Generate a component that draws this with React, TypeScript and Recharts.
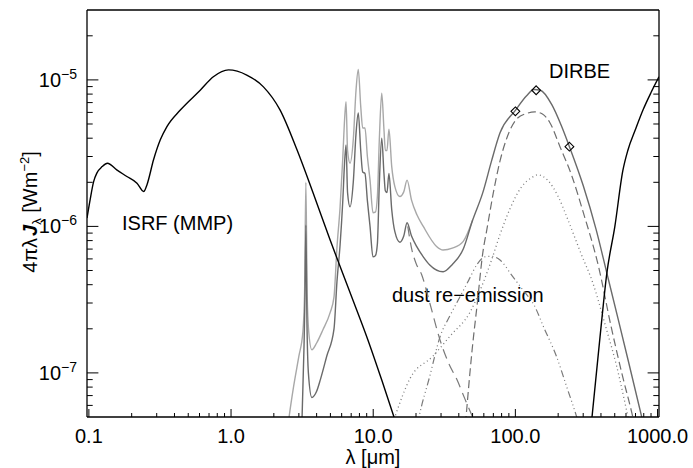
import React from "react";
import { ComposedChart, Line, Scatter, XAxis, YAxis } from "recharts";

const XMIN = 0.097;
const XMAX = 1024;
const YMIN = 5e-8;
const YMAX = 3e-5;

const FONT = "'Liberation Sans', Arial, Helvetica, sans-serif";

// ticks
const xMajorTicks = [0.1, 1, 10, 100, 1000];
const xTickLabels = ["0.1", "1.0", "10.0", "100.0", "1000.0"];
const xMinorTicks = [
  0.2, 0.3, 0.4, 0.5, 0.6, 0.7, 0.8, 0.9, 2, 3, 4, 5, 6, 7, 8, 9, 20, 30, 40, 50, 60, 70, 80, 90, 200, 300, 400,
  500, 600, 700, 800, 900,
];
const yMajorTicks = [1e-7, 1e-6, 1e-5];
const yTickExponents = ["−7", "−6", "−5"];
const yMinorTicks = [
  6e-8, 7e-8, 8e-8, 9e-8, 2e-7, 3e-7, 4e-7, 5e-7, 6e-7, 7e-7, 8e-7, 9e-7, 2e-6, 3e-6, 4e-6, 5e-6, 6e-6, 7e-6, 8e-6,
  9e-6, 2e-5,
];

// ISRF (MMP) + CMB, black
const isrfLambda = [
  0.097, 0.102, 0.108, 0.114, 0.124, 0.135, 0.157, 0.185, 0.218, 0.243, 0.256, 0.285, 0.318, 0.354, 0.438, 0.607,
  0.751, 0.96, 1.29, 1.69, 2.21, 2.91, 3.78, 4.97, 5.86, 7.24, 9.06, 11.5, 14, 17, 25, 60, 200, 300, 330, 346, 394,
  440, 501, 570, 618, 700, 794, 900, 1024,
];
const isrfValue = [
  1.14e-6, 1.52e-6, 2.02e-6, 2.32e-6, 2.56e-6, 2.7e-6, 2.43e-6, 2.19e-6, 1.97e-6, 1.73e-6, 1.92e-6, 2.85e-6, 3.9e-6,
  4.8e-6, 6.2e-6, 8.5e-6, 1.05e-5, 1.17e-5, 1.08e-5, 8.96e-6, 6.24e-6, 3.33e-6, 1.69e-6, 8.1e-7, 5.3e-7, 3.1e-7,
  1.74e-7, 8.9e-8, 5e-8, 2.8e-8, 5e-9, 1e-11, 1e-10, 1.3e-8, 3.2e-8, 5e-8, 1.76e-7, 4.8e-7, 1.0e-6, 2.4e-6, 3.3e-6,
  4.6e-6, 6.3e-6, 8.2e-6, 1.05e-5,
];

// total emission, high PAH case (light gray)
const highLambda = [
  2.4, 2.56, 2.75, 3.0, 3.2, 3.29, 3.36, 3.43, 3.52, 3.7, 4.0, 4.43, 4.97, 5.3, 5.56, 5.85, 6.1, 6.3, 6.44, 6.6, 6.87,
  7.24, 7.57, 7.85, 8.17, 8.43, 8.75, 9.1, 9.5, 9.96, 10.35, 10.7, 11.04, 11.48, 11.9, 12.17, 12.5, 12.9, 13.5, 14.2,
  15.4, 16.4, 17.3, 18.6, 20.3, 22.5, 27.9, 31, 36, 43, 50,
];
const highValue = [
  3e-8, 5e-8, 8e-8, 1.3e-7, 1.9e-7, 3.5e-7, 2.0e-6, 3.5e-7, 1.9e-7, 1.44e-7, 1.6e-7, 1.97e-7, 2.57e-7, 3.3e-7, 7.2e-7,
  1.36e-6, 2.85e-6, 5.5e-6, 7.1e-6, 3.3e-6, 2.7e-6, 3.9e-6, 8.5e-6, 1.18e-5, 6.6e-6, 4.7e-6, 4.7e-6, 3.0e-6, 2.07e-6,
  1.24e-6, 1.25e-6, 1.6e-6, 3.9e-6, 8.1e-6, 4.6e-6, 3.3e-6, 3.3e-6, 4.6e-6, 2.56e-6, 1.87e-6, 1.6e-6, 1.72e-6,
  2.07e-6, 1.51e-6, 1.2e-6, 1.0e-6, 7.3e-7, 6.9e-7, 7.1e-7, 7.9e-7, 1.1e-6,
];

// total emission (dark gray)
const totalLambda = [
  3.05, 3.16, 3.26, 3.31, 3.36, 3.42, 3.5, 3.7, 4.0, 4.25, 4.71, 5.3, 5.56, 5.85, 6.1, 6.3, 6.44, 6.6, 6.87, 7.24,
  7.57, 7.85, 8.17, 8.43, 8.75, 9.1, 9.5, 9.96, 10.35, 10.7, 11.04, 11.48, 11.9, 12.17, 12.5, 12.9, 13.5, 14.2, 15.4,
  16.4, 17.3, 18.6, 20.2, 22.5, 25, 31, 36, 43, 50, 59, 68, 78, 100, 120, 135, 150, 180, 210, 240, 300, 370, 440, 530,
  620, 774, 850,
];
const totalValue = [
  3e-8, 5e-8, 1.5e-7, 3.2e-7, 1.02e-6, 2.2e-7, 1.0e-7, 6.8e-8, 7.5e-8, 9e-8, 1.3e-7, 2.0e-7, 4.2e-7, 7.5e-7, 1.45e-6,
  2.8e-6, 3.6e-6, 1.7e-6, 1.36e-6, 2.0e-6, 4.3e-6, 5.96e-6, 3.3e-6, 2.35e-6, 2.3e-6, 1.5e-6, 1.0e-6, 6.2e-7, 6.3e-7,
  7.6e-7, 1.95e-6, 4.0e-6, 2.3e-6, 1.75e-6, 1.7e-6, 2.3e-6, 1.3e-6, 9.2e-7, 7.8e-7, 8.6e-7, 1.06e-6, 8.6e-7, 7.3e-7,
  6.2e-7, 5.45e-7, 4.9e-7, 5.5e-7, 7.0e-7, 1.1e-6, 1.7e-6, 2.8e-6, 4.35e-6, 6.2e-6, 7.8e-6, 8.6e-6, 8.5e-6, 6.8e-6,
  4.9e-6, 3.5e-6, 1.9e-6, 9.5e-7, 4.8e-7, 2.3e-7, 1.23e-7, 5e-8, 3.4e-8,
];

// big grains (dashed)
const bigLambda = [40, 45, 49.5, 54, 59, 63, 70, 78, 87, 102, 120, 137, 155, 175, 206, 250, 300, 385, 470, 560, 670, 800];
const bigValue = [
  1.2e-8, 5e-8, 1.4e-7, 3.0e-7, 6.6e-7, 9.5e-7, 1.7e-6, 2.8e-6, 4.0e-6, 5.4e-6, 5.9e-6, 6.05e-6, 5.85e-6, 5.1e-6,
  3.5e-6, 2.2e-6, 1.25e-6, 5.3e-7, 2.1e-7, 1.0e-7, 5e-8, 2.2e-8,
];

// very small grains (dotted)
const vsgLambda = [12, 14.2, 18.2, 26.3, 35, 48, 58, 68, 78, 92, 110, 130, 144, 170, 200, 230, 290, 351, 430, 517, 620, 700];
const vsgValue = [
  3e-8, 5e-8, 9.2e-8, 1.3e-7, 1.8e-7, 2.6e-7, 3.9e-7, 5.9e-7, 8.8e-7, 1.33e-6, 1.85e-6, 2.15e-6, 2.25e-6, 2.05e-6,
  1.6e-6, 1.16e-6, 6.5e-7, 4.1e-7, 2.1e-7, 1.1e-7, 5e-8, 2.9e-8,
];

// warm component (dash dot dot dot)
const warmLambda = [19, 21, 25, 29.5, 35, 40.7, 47, 53.7, 61, 68, 78, 95, 115, 133, 160, 195, 230, 270, 300];
const warmValue = [
  3e-8, 5e-8, 9.5e-8, 1.76e-7, 2.5e-7, 3.3e-7, 4.3e-7, 5.5e-7, 6.2e-7, 6.25e-7, 5.9e-7, 4.6e-7, 3.6e-7, 3.0e-7, 2.0e-7,
  1.29e-7, 8.0e-8, 5e-8, 3.5e-8,
];

// PAH tail (long dashes)
const tailLambda = [17.5, 18.6, 20, 21.9, 25, 29.5, 34, 38.8, 44, 50, 56];
const tailValue = [1.0e-6, 7.1e-7, 5.6e-7, 4.7e-7, 3.0e-7, 1.68e-7, 1.16e-7, 9e-8, 6.7e-8, 5e-8, 3.9e-8];

// DIRBE points
const dirbeLambda = [100, 140, 240];
const dirbeValue = [6.1e-6, 8.5e-6, 3.5e-6];

const toPoints = (xs: number[], ys: number[]) => xs.map((x, i) => ({ x, y: ys[i] }));

const isDecade = (v: number) => Math.abs(Math.log10(v) - Math.round(Math.log10(v))) < 1e-6;

function XTick(props: any) {
  const { x, y, payload, side } = props;
  const v = payload.value;
  const major = isDecade(v);
  const len = major ? 8 : 4;
  const dir = side === "bottom" ? -1 : 1;
  const idx = xMajorTicks.findIndex((t) => Math.abs(t - v) / t < 1e-6);
  return (
    <g>
      <line x1={x} y1={y} x2={x} y2={y + dir * len} stroke="#000" strokeWidth={1} />
      {side === "bottom" && idx >= 0 && (
        <text x={x} y={y + 26} textAnchor="middle" fontSize={20} fontFamily={FONT} fill="#000">
          {xTickLabels[idx]}
        </text>
      )}
    </g>
  );
}

function YTick(props: any) {
  const { x, y, payload, side } = props;
  const v = payload.value;
  const major = isDecade(v);
  const len = major ? 11.4 : 5.7;
  const dir = side === "left" ? 1 : -1;
  const idx = yMajorTicks.findIndex((t) => Math.abs(t - v) / t < 1e-6);
  return (
    <g>
      <line x1={x} y1={y} x2={x + dir * len} y2={y} stroke="#000" strokeWidth={1} />
      {side === "left" && idx >= 0 && (
        <text x={x - 10} y={y + 7} textAnchor="end" fontSize={20} fontFamily={FONT} fill="#000">
          <tspan>10</tspan>
          <tspan fontSize={14} dy={-8}>
            {yTickExponents[idx]}
          </tspan>
        </text>
      )}
    </g>
  );
}

function Diamond(props: any) {
  const { cx, cy } = props;
  const r = 4.4;
  return (
    <polygon
      points={`${cx},${cy - r} ${cx + r},${cy} ${cx},${cy + r} ${cx - r},${cy}`}
      fill="none"
      stroke="#000"
      strokeWidth={1.1}
    />
  );
}

const lineCommon = {
  xAxisId: "b",
  yAxisId: "l",
  dataKey: "y",
  type: "monotone" as const,
  dot: false,
  activeDot: false,
  isAnimationActive: false,
};

export default function App() {
  const axisLine = { stroke: "#000", strokeWidth: 1.3 };
  return (
    <div style={{ position: "absolute", left: 0, top: 0, width: 693, height: 468, background: "#fff" }}>
      <ComposedChart width={693} height={468} margin={{ top: 0, right: 0, bottom: 0, left: 0 }}>
        <XAxis
          xAxisId="b"
          dataKey="x"
          type="number"
          scale="log"
          domain={[XMIN, XMAX]}
          allowDataOverflow
          ticks={[...xMajorTicks, ...xMinorTicks]}
          interval={0}
          tickLine={false}
          tickSize={0}
          tickMargin={0}
          height={51}
          axisLine={axisLine}
          tick={<XTick side="bottom" />}
        />
        <XAxis
          xAxisId="t"
          orientation="top"
          type="number"
          scale="log"
          domain={[XMIN, XMAX]}
          allowDataOverflow
          ticks={[...xMajorTicks, ...xMinorTicks]}
          interval={0}
          tickLine={false}
          tickSize={0}
          tickMargin={0}
          height={10}
          axisLine={axisLine}
          tick={<XTick side="top" />}
        />
        <YAxis
          yAxisId="l"
          dataKey="y"
          type="number"
          scale="log"
          domain={[YMIN, YMAX]}
          allowDataOverflow
          ticks={[...yMajorTicks, ...yMinorTicks]}
          interval={0}
          tickLine={false}
          tickSize={0}
          tickMargin={0}
          width={87}
          axisLine={axisLine}
          tick={<YTick side="left" />}
        />
        <YAxis
          yAxisId="r"
          orientation="right"
          type="number"
          scale="log"
          domain={[YMIN, YMAX]}
          allowDataOverflow
          ticks={[...yMajorTicks, ...yMinorTicks]}
          interval={0}
          tickLine={false}
          tickSize={0}
          tickMargin={0}
          width={34}
          axisLine={axisLine}
          tick={<YTick side="right" />}
        />

        <Line {...lineCommon} data={toPoints(tailLambda, tailValue)} stroke="#7a7a7a" strokeWidth={1.2} strokeDasharray="10 6" />
        <Line
          {...lineCommon}
          data={toPoints(warmLambda, warmValue)}
          stroke="#7a7a7a"
          strokeWidth={1.2}
          strokeDasharray="7 3 1 3 1 3 1 3"
        />
        <Line {...lineCommon} data={toPoints(vsgLambda, vsgValue)} stroke="#7a7a7a" strokeWidth={1.3} strokeDasharray="1 3" />
        <Line {...lineCommon} data={toPoints(bigLambda, bigValue)} stroke="#6e6e6e" strokeWidth={1.2} strokeDasharray="8 4" />
        <Line {...lineCommon} data={toPoints(highLambda, highValue)} stroke="#a8a8a8" strokeWidth={1.4} />
        <Line {...lineCommon} data={toPoints(totalLambda, totalValue)} stroke="#6a6a6a" strokeWidth={1.4} />
        <Line {...lineCommon} data={toPoints(isrfLambda, isrfValue)} stroke="#000" strokeWidth={1.4} />
        <Scatter
          xAxisId="b"
          yAxisId="l"
          dataKey="y"
          data={toPoints(dirbeLambda, dirbeValue)}
          shape={Diamond}
          isAnimationActive={false}
        />

        <text x={122} y={230} fontSize={20} fontFamily={FONT} fill="#000">
          ISRF (MMP)
        </text>
        <text x={549} y={78} fontSize={20} fontFamily={FONT} fill="#000">
          DIRBE
        </text>
        <text x={392} y={302} fontSize={20} fontFamily={FONT} fill="#000">
          dust re−emission
        </text>
        <text x={373} y={464} textAnchor="middle" fontSize={20} fontFamily={FONT} fill="#000">
          λ [μm]
        </text>
        <text transform="translate(37,212) rotate(-90)" textAnchor="middle" fontSize={20} fontFamily={FONT} fill="#000">
          <tspan>4πλ</tspan>
          <tspan dx={2} fontWeight="bold" fontStyle="italic">
            J
          </tspan>
          <tspan fontSize={13} dy={4}>
            λ
          </tspan>
          <tspan dy={-4}> [Wm</tspan>
          <tspan fontSize={13} dy={-8}>
            −2
          </tspan>
          <tspan dy={8}>]</tspan>
        </text>
      </ComposedChart>
    </div>
  );
}
